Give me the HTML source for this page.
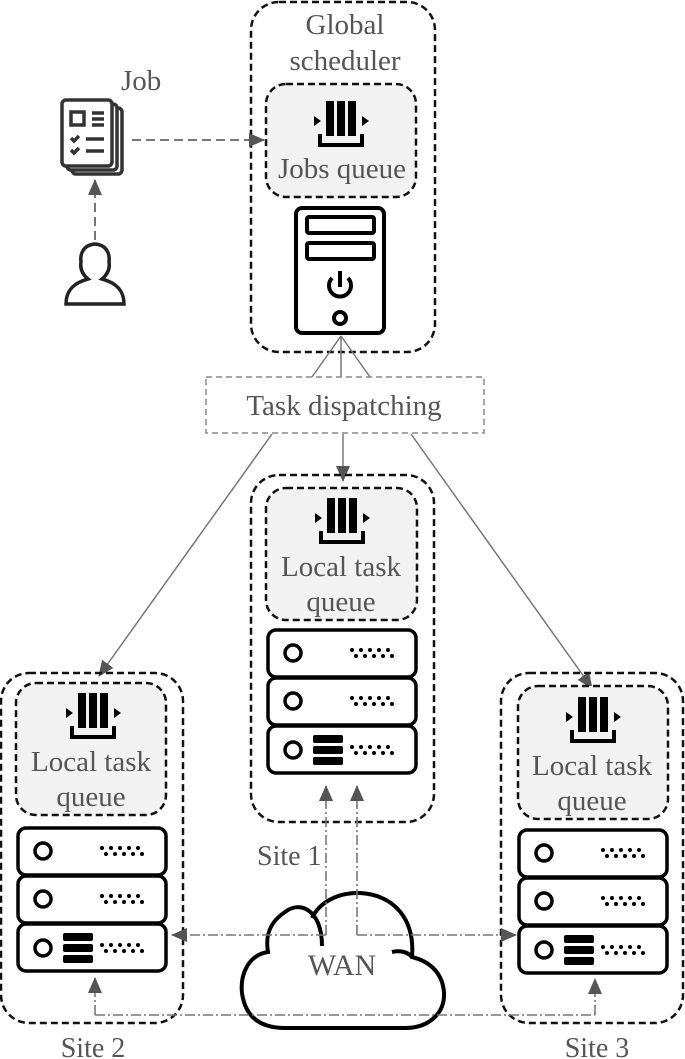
<!DOCTYPE html>
<html><head><meta charset="utf-8"><style>
html,body{margin:0;padding:0;background:#fff}
svg{display:block}
text{font-family:"Liberation Serif",serif;fill:#555}
</style></head><body>
<svg width="685" height="1059" viewBox="0 0 685 1059" xmlns="http://www.w3.org/2000/svg">
<defs>
<marker id="ahb" markerWidth="16" markerHeight="14" refX="15" refY="7" orient="auto" markerUnits="userSpaceOnUse"><path d="M0,0 L16,7 L0,14 z" fill="#555"/></marker>
<g id="qicon">
<rect x="-15" y="0" width="8" height="35" fill="#000"/>
<rect x="-4" y="0" width="8" height="35" fill="#000"/>
<rect x="7" y="0" width="8" height="35" fill="#000"/>
<path d="M-21,33 V44 H21 V33" fill="none" stroke="#000" stroke-width="4"/>
<path d="M-27,15 L-20,20 L-27,25 z M21,15 L28,20 L21,25 z" fill="#000"/>
</g>
<g id="dots" fill="#000">
<circle cx="0" cy="0" r="2"/><circle cx="9" cy="0" r="2"/><circle cx="18" cy="0" r="2"/><circle cx="27" cy="0" r="2"/><circle cx="36" cy="0" r="2"/>
<circle cx="4" cy="6" r="2"/><circle cx="13" cy="6" r="2"/><circle cx="22" cy="6" r="2"/><circle cx="31" cy="6" r="2"/><circle cx="40" cy="6" r="2"/>
</g>
<g id="stack">
<rect x="0" y="0" width="148" height="47" rx="8" fill="#fff" stroke="#000" stroke-width="3.5"/>
<rect x="0" y="48" width="148" height="47" rx="8" fill="#fff" stroke="#000" stroke-width="3.5"/>
<rect x="0" y="96" width="148" height="47" rx="8" fill="#fff" stroke="#000" stroke-width="3.5"/>
<circle cx="25" cy="23" r="8" fill="none" stroke="#000" stroke-width="3.5"/>
<circle cx="25" cy="71" r="8" fill="none" stroke="#000" stroke-width="3.5"/>
<circle cx="25" cy="120" r="8" fill="none" stroke="#000" stroke-width="3.5"/>
<use href="#dots" x="84" y="20"/>
<use href="#dots" x="84" y="68"/>
<use href="#dots" x="84" y="117"/>
<rect x="45" y="105" width="30" height="8" rx="2" fill="#000"/>
<rect x="45" y="116" width="30" height="8" rx="2" fill="#000"/>
<rect x="45" y="127" width="30" height="8" rx="2" fill="#000"/>
</g>
</defs>

<!-- Global scheduler -->
<rect x="251" y="2" width="184" height="350" rx="28" fill="none" stroke="#111" stroke-width="2.5" stroke-dasharray="7,4"/>
<text x="345" y="34" font-size="29" text-anchor="middle">Global</text>
<text x="345" y="70" font-size="29" text-anchor="middle">scheduler</text>
<rect x="266" y="84" width="150" height="113" rx="20" fill="#f2f2f2" stroke="#111" stroke-width="2.5" stroke-dasharray="7,4"/>
<use href="#qicon" x="341" y="101"/>
<text x="342" y="178" font-size="29" text-anchor="middle">Jobs queue</text>
<!-- tower -->
<rect x="296" y="208" width="88" height="125" rx="6" fill="#fff" stroke="#000" stroke-width="4"/>
<rect x="307" y="217" width="67" height="16" rx="2" fill="none" stroke="#000" stroke-width="4"/>
<rect x="307" y="243" width="67" height="16" rx="2" fill="none" stroke="#000" stroke-width="4"/>
<path d="M332,278 A11,11 0 1 0 348,278" fill="none" stroke="#000" stroke-width="4"/>
<line x1="340" y1="271" x2="340" y2="287" stroke="#000" stroke-width="4"/>
<circle cx="340" cy="318" r="6" fill="none" stroke="#000" stroke-width="4"/>

<!-- Job icon -->
<g fill="none" stroke="#333" stroke-width="3.5">
<rect x="72" y="108" width="50" height="66" rx="4" fill="#fff"/>
<rect x="67" y="104" width="50" height="66" rx="4" fill="#fff"/>
<rect x="62" y="100" width="50" height="66" rx="4" fill="#fff"/>
<rect x="71" y="112" width="13" height="13"/>
<line x1="92" y1="113" x2="104" y2="113"/><line x1="92" y1="119" x2="104" y2="119"/><line x1="92" y1="125" x2="104" y2="125"/>
<path d="M71,138 l3,3 l5,-5 M71,150 l3,3 l5,-5"/>
<line x1="86" y1="139" x2="104" y2="139"/><line x1="86" y1="151" x2="104" y2="151"/>
</g>
<text x="121" y="90" font-size="29">Job</text>
<line x1="132" y1="140" x2="264" y2="140" stroke="#666" stroke-width="1.8" stroke-dasharray="9,5" marker-end="url(#ahb)"/>
<!-- person -->
<path d="M66,304 C66,288 77,282 88,279 C82,274 80,268 81,262 C80,254 83,245 95,244 C107,245 110,254 109,262 C110,268 108,274 102,279 C113,282 124,288 124,304 Z" fill="none" stroke="#222" stroke-width="3.5"/>
<line x1="95" y1="240" x2="95" y2="180" stroke="#666" stroke-width="1.8" stroke-dasharray="9,5" marker-end="url(#ahb)"/>

<!-- Task dispatching -->
<line x1="341" y1="336" x2="312" y2="377" stroke="#777" stroke-width="1.5"/>
<line x1="341" y1="336" x2="341" y2="377" stroke="#777" stroke-width="1.5"/>
<line x1="341" y1="336" x2="370" y2="377" stroke="#777" stroke-width="1.5"/>
<rect x="206" y="377" width="278" height="56" fill="#fff" stroke="#888" stroke-width="1.5" stroke-dasharray="6,4"/>
<text x="344" y="415" font-size="29" text-anchor="middle">Task dispatching</text>
<line x1="272" y1="434" x2="99" y2="676" stroke="#777" stroke-width="1.5" marker-end="url(#ahb)"/>
<line x1="343" y1="434" x2="343" y2="481" stroke="#777" stroke-width="1.5" marker-end="url(#ahb)"/>
<line x1="411" y1="434" x2="592" y2="688" stroke="#777" stroke-width="1.5" marker-end="url(#ahb)"/>

<!-- Site 1 -->
<rect x="251" y="475" width="183" height="347" rx="28" fill="none" stroke="#111" stroke-width="2.5" stroke-dasharray="7,4"/>
<rect x="266" y="488" width="151" height="132" rx="20" fill="#f2f2f2" stroke="#111" stroke-width="2.5" stroke-dasharray="7,4"/>
<use href="#qicon" x="342" y="498"/>
<text x="341" y="576" font-size="29" text-anchor="middle">Local task</text>
<text x="341" y="611" font-size="29" text-anchor="middle">queue</text>
<use href="#stack" x="268" y="630"/>
<text x="257" y="865" font-size="28">Site 1</text>

<!-- Site 2 -->
<rect x="1" y="673" width="182" height="350" rx="28" fill="none" stroke="#111" stroke-width="2.5" stroke-dasharray="7,4"/>
<rect x="16" y="683" width="150" height="132" rx="20" fill="#f2f2f2" stroke="#111" stroke-width="2.5" stroke-dasharray="7,4"/>
<use href="#qicon" x="93" y="693"/>
<text x="91" y="771" font-size="29" text-anchor="middle">Local task</text>
<text x="91" y="806" font-size="29" text-anchor="middle">queue</text>
<use href="#stack" x="18" y="828"/>
<text x="93" y="1057" font-size="28" text-anchor="middle">Site 2</text>

<!-- Site 3 -->
<rect x="501" y="673" width="182" height="350" rx="28" fill="none" stroke="#111" stroke-width="2.5" stroke-dasharray="7,4"/>
<rect x="518" y="686" width="150" height="133" rx="20" fill="#f2f2f2" stroke="#111" stroke-width="2.5" stroke-dasharray="7,4"/>
<use href="#qicon" x="593" y="697"/>
<text x="592" y="775" font-size="29" text-anchor="middle">Local task</text>
<text x="592" y="810" font-size="29" text-anchor="middle">queue</text>
<use href="#stack" x="519" y="830"/>
<text x="597" y="1057" font-size="28" text-anchor="middle">Site 3</text>

<!-- Cloud -->
<path d="M322,946 C322,910 300,900 285,912 C270,922 265,935 268,952 C248,955 240,975 242,993 C245,1015 258,1028 285,1028 L405,1028 C430,1028 445,1012 444,993 C443,975 432,962 412,957 C415,920 395,895 360,893 C335,892 318,905 312,918" fill="#fff" stroke="#000" stroke-width="4"/>
<path d="M392,952 C400,950 408,952 412,957" fill="none" stroke="#000" stroke-width="4"/>
<text x="342" y="975" font-size="30" text-anchor="middle">WAN</text>

<!-- WAN links -->
<g fill="none" stroke="#777" stroke-width="1.6" stroke-dasharray="10,3,2,3">
<path d="M326,935 V786" marker-end="url(#ahb)"/>
<path d="M326,935 H172" marker-end="url(#ahb)"/>
<path d="M357,935 V786" marker-end="url(#ahb)"/>
<path d="M357,935 H516" marker-end="url(#ahb)"/>
<path d="M95,1015 H595"/>
<path d="M95,1015 V978" marker-end="url(#ahb)"/>
<path d="M595,1015 V979" marker-end="url(#ahb)"/>
</g>
</svg>
</body></html>
